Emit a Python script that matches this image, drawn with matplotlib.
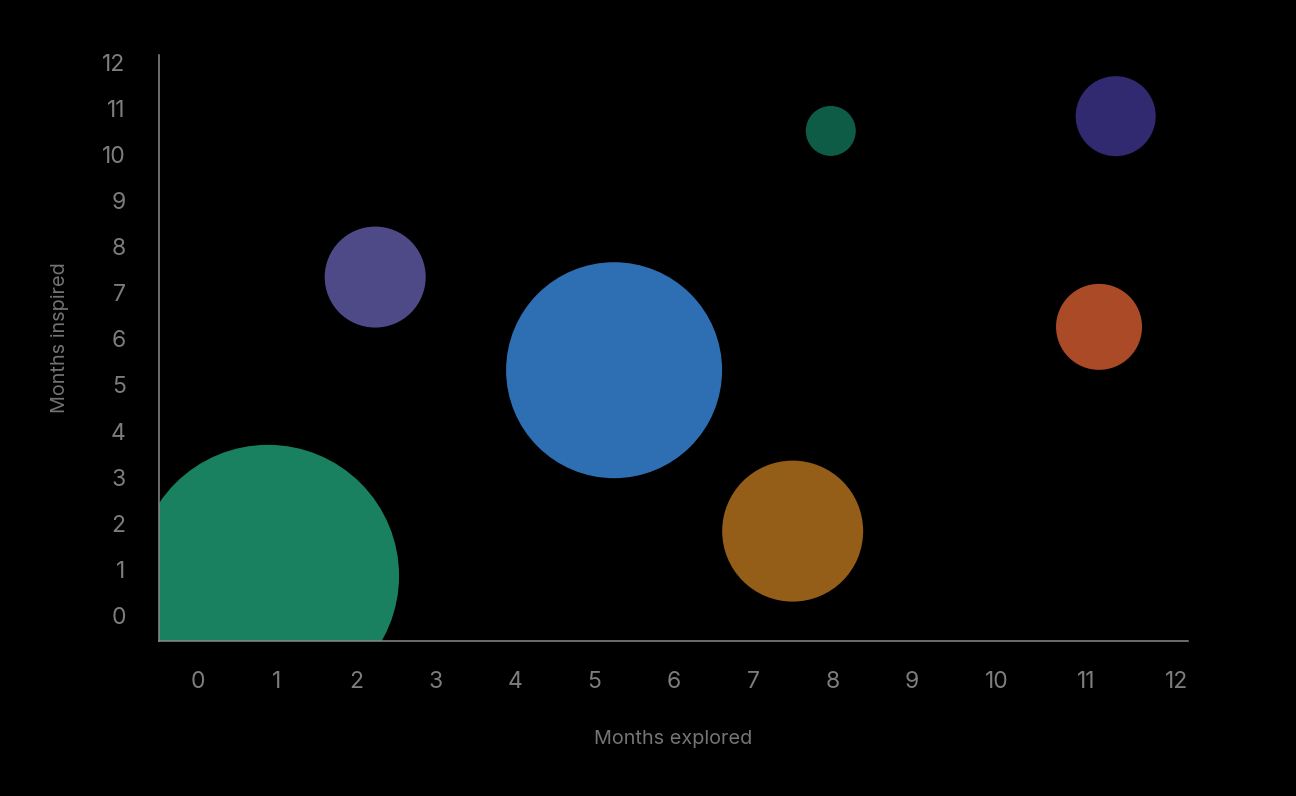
import matplotlib
matplotlib.use("Agg")
import matplotlib.pyplot as plt
import matplotlib.transforms as mtransforms

plt.rcParams['font.family'] = ['Inter', 'DejaVu Sans']

# bubble data
months_explored = [0.89, 2.24, 5.25, 7.50, 7.98, 11.57, 11.36]
months_inspired = [0.86, 7.34, 5.32, 1.83, 10.51, 10.83, 6.26]
bubble_value = [26.2, 10.1, 21.6, 14.1, 5.0, 8.0, 8.6]
bubble_colors = ['#1a8160', '#4e4a88', '#2e6eb2', '#955e18',
                 '#0f5c46', '#312a70', '#ab4a27']
tick_values = list(range(0, 13))

DPI = 100
fig = plt.figure(figsize=(12.96, 7.96), dpi=DPI, facecolor='black')
ax = fig.add_axes([159 / 1296, 1 - 640.7 / 796, (1187.6 - 159) / 1296, (640.7 - 55.3) / 796])
ax.set_facecolor('black')

# radius px = value * 5 -> marker area in pt^2
sizes = [(2 * v * 5 * 72 / DPI) ** 2 for v in bubble_value]
ax.scatter(months_explored, months_inspired, s=sizes, c=bubble_colors,
           linewidths=0, zorder=2, clip_on=True)

ax.set_xlim(-0.484, 12.476)
ax.set_ylim(-0.547, 12.15)
ax.set_xticks(tick_values)
ax.set_yticks(tick_values)
ax.set_xticklabels([str(t) for t in tick_values])
ax.set_yticklabels([str(t) for t in tick_values])

for side in ['top', 'right']:
    ax.spines[side].set_visible(False)
for side in ['left', 'bottom']:
    ax.spines[side].set_color('#8a8a8a')
    ax.spines[side].set_linewidth(1.1)

ax.tick_params(axis='x', length=0, pad=21.5, labelsize=16.5, labelcolor='#7d7d7d')
ax.tick_params(axis='y', length=0, pad=24, labelsize=16.5, labelcolor='#7d7d7d')

# the last x labels sit a bit right of their ticks in the reference
nudge = {10: 6, 11: 16, 12: 27}
for t, lab in zip(tick_values, ax.get_xticklabels()):
    if t in nudge:
        lab.set_transform(lab.get_transform() +
                          mtransforms.ScaledTranslation(nudge[t] / DPI, 0, fig.dpi_scale_trans))

fig.text(673 / 1296, 1 - 739 / 796, 'Months explored', color='#747474',
         fontsize=14.3, ha='center', va='center')
fig.text(60 / 1296, 1 - 338 / 796, 'Months inspired', color='#747474',
         fontsize=14.3, ha='center', va='center', rotation=90)

fig.savefig('out.png', dpi=DPI, facecolor='black')
